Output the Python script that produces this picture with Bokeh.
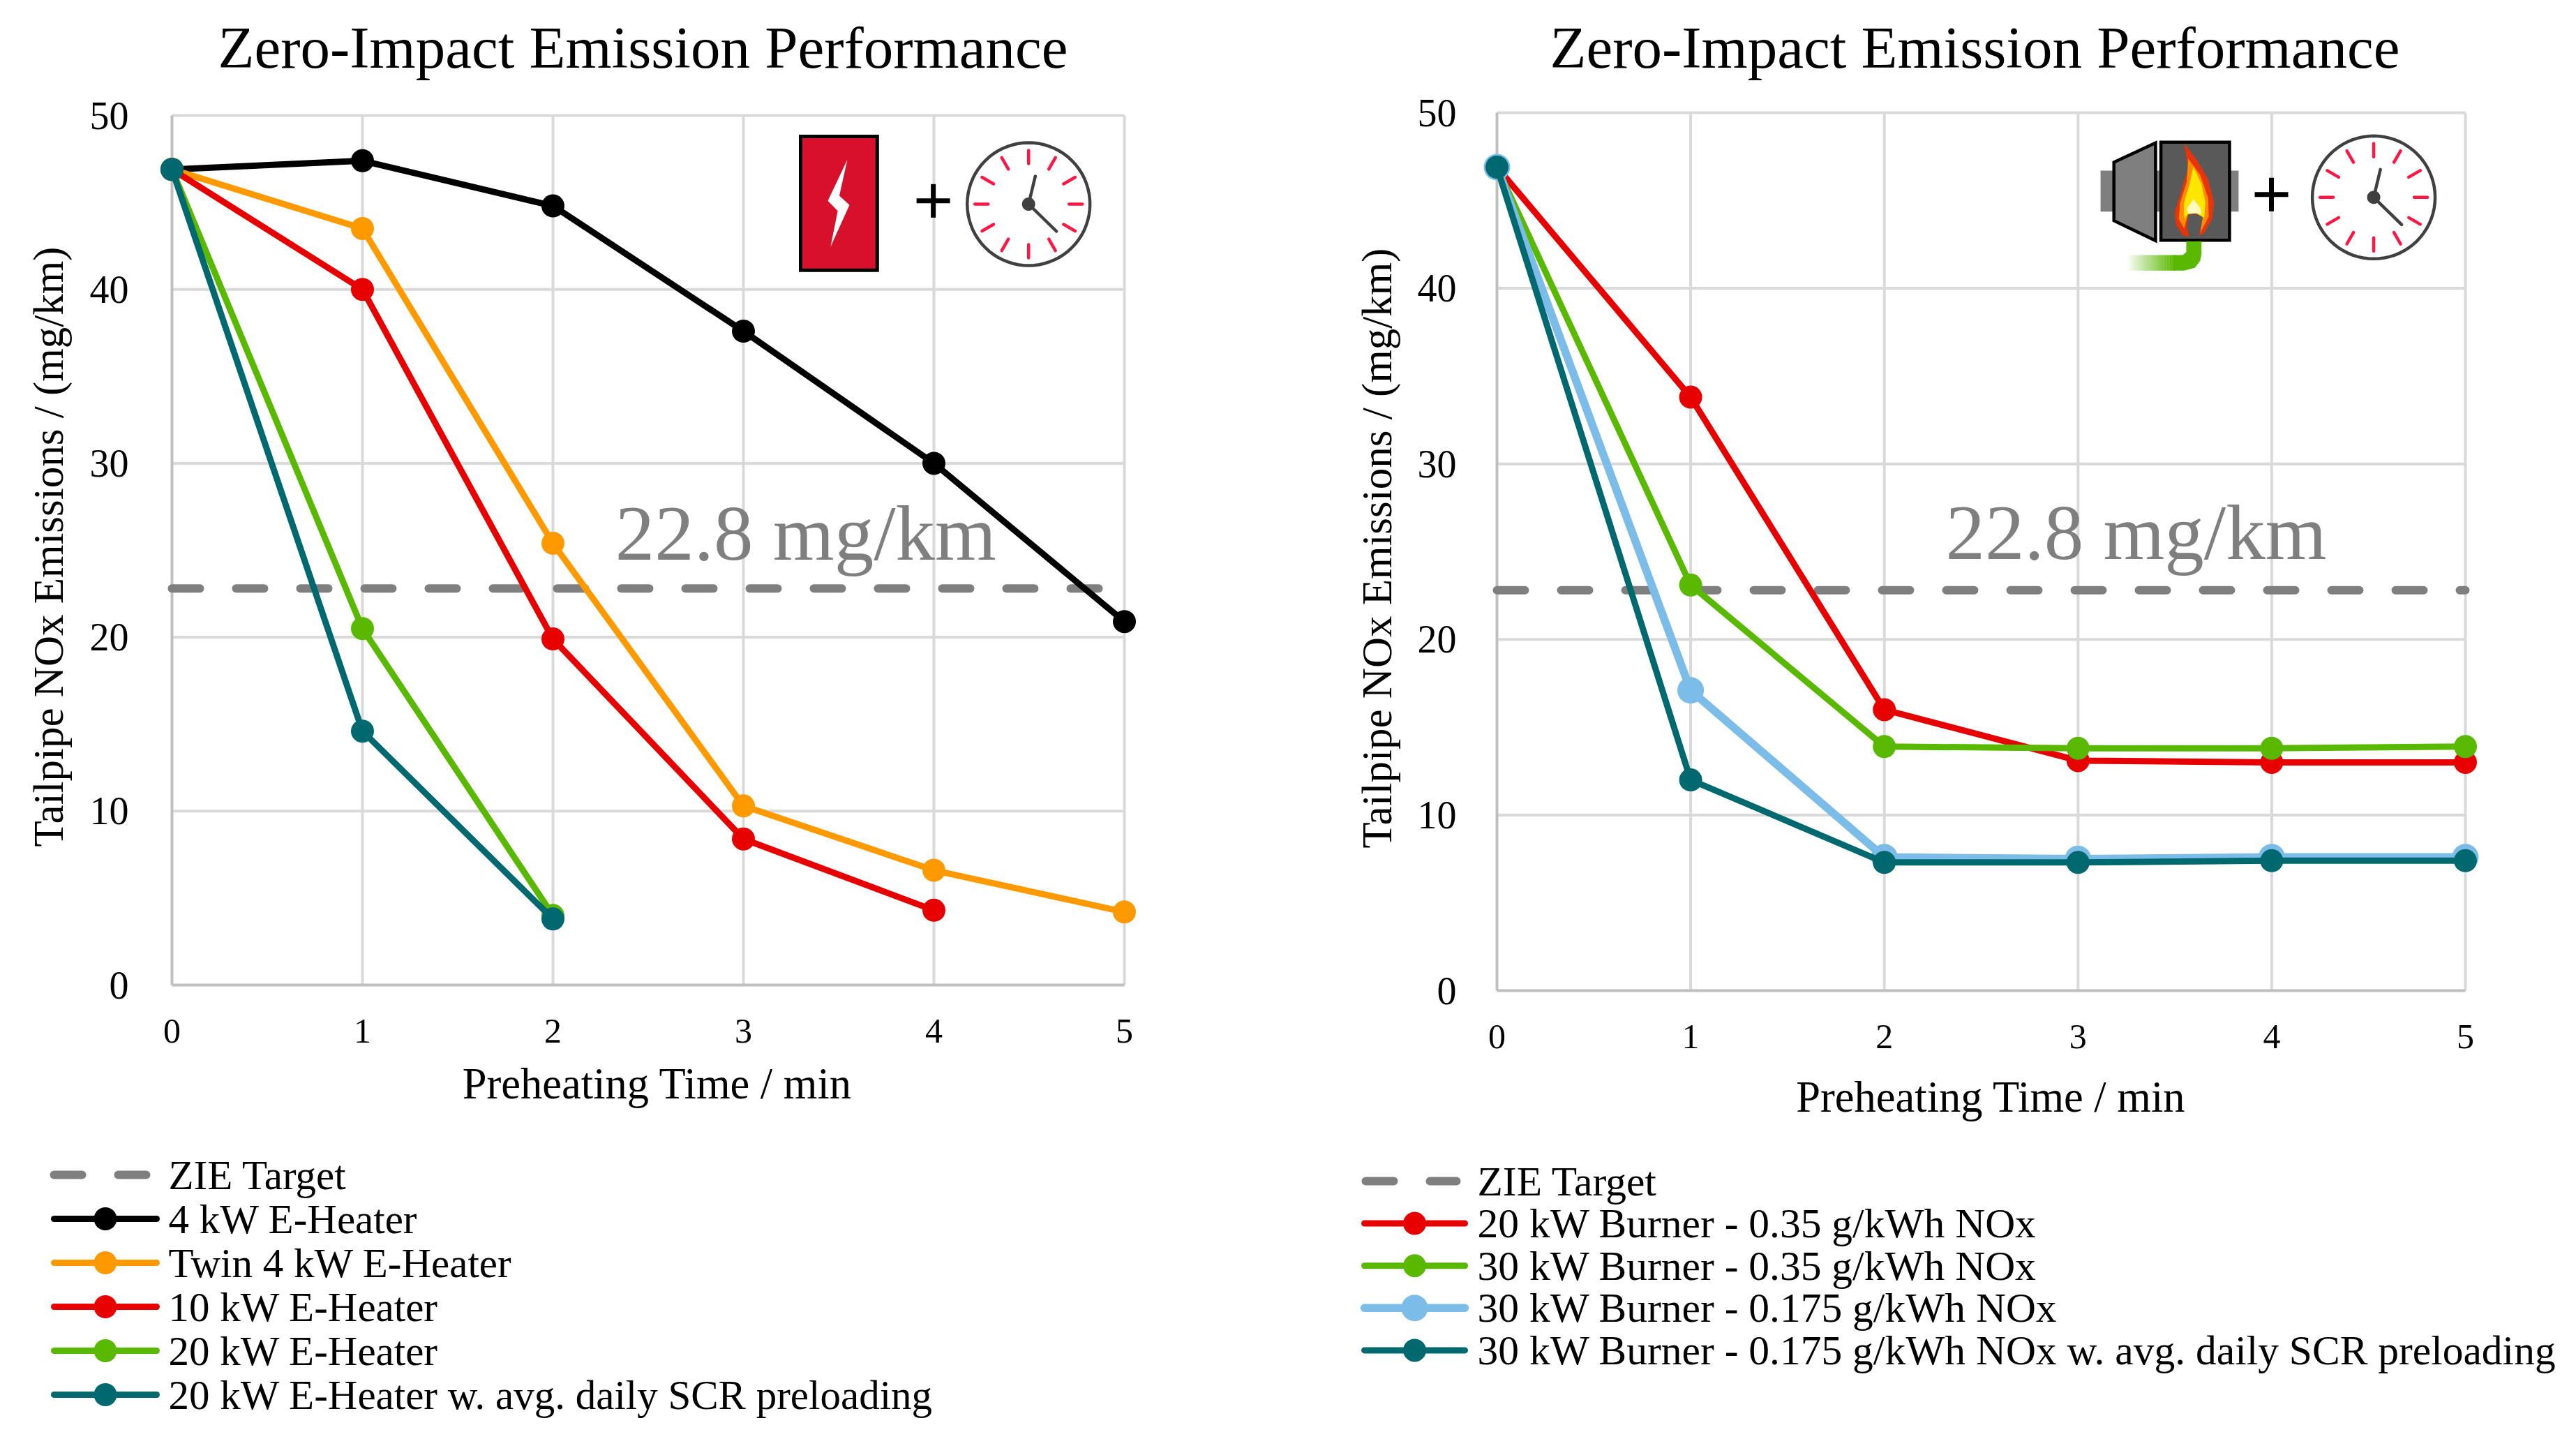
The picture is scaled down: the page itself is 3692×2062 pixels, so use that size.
import math
from bokeh.plotting import figure
from bokeh.layouts import row, column
from bokeh.models import Range1d, FixedTicker, Title
from bokeh.core.properties import value
from bokeh.embed import file_html
from bokeh.resources import INLINE

FONT = "Liberation Serif"
title_text = "Zero-Impact Emission Performance"
xlabel = "Preheating Time / min"
ylabel = "Tailpipe NOx Emissions / (mg/km)"
target_label = "22.8 mg/km"
target_name = "ZIE Target"
target = 22.8
times = [0, 1, 2, 3, 4, 5]
y_ticks = [0, 10, 20, 30, 40, 50]

left_names = ["4 kW E-Heater", "Twin 4 kW E-Heater", "10 kW E-Heater", "20 kW E-Heater",
              "20 kW E-Heater w. avg. daily SCR preloading"]
heater_4 = [46.9, 47.4, 44.8, 37.6, 30.0, 20.9]
heater_twin4 = [46.9, 43.5, 25.4, 10.3, 6.6, 4.2]
heater_10 = [46.9, 40.0, 19.9, 8.4, 4.3]
heater_20 = [46.9, 20.5, 4.0]
heater_20_scr = [46.9, 14.6, 3.8]

right_names = ["20 kW Burner - 0.35 g/kWh NOx", "30 kW Burner - 0.35 g/kWh NOx",
               "30 kW Burner - 0.175 g/kWh NOx",
               "30 kW Burner - 0.175  g/kWh NOx w. avg. daily SCR preloading"]
burner_20 = [46.9, 33.8, 16.0, 13.1, 13.0, 13.0]
burner_30 = [46.9, 23.1, 13.9, 13.8, 13.8, 13.9]
burner_30_low = [46.9, 17.1, 7.6, 7.5, 7.6, 7.6]
burner_30_scr = [46.9, 12.0, 7.3, 7.3, 7.4, 7.4]

BLACK, ORANGE, RED, GREEN, TEAL, SKY, GREY = "#000000", "#FF9900", "#E60000", "#59B800", "#00686F", "#7CBCE8", "#7F7F7F"
SPLIT_Y = 1640
PAGE_BOTTOM = 2055
M = 24        # room round the axes so that the markers on the edges stay whole
M_TOP = 34    # the frame's centre sets where the axis titles sit, so these two differ from M


class Panel:
    def __init__(self, fig_x, fig_w, x0, x1, y50, y0, m_right, title_x, tstand, xstand, ytick_stand, ystand):
        self.x0, self.x1, self.y50, self.y0 = x0, x1, y50, y0
        ux = (x1 - x0) / 5
        uy = (y0 - y50) / 50
        fl, fr, ft, fb = round(x0 - M), round(x1 + m_right), round(y50 - M_TOP), round(y0 + M)
        p = figure(output_backend="svg", toolbar_location=None,
                   x_range=Range1d(-M / ux, 5 + m_right / ux), y_range=Range1d(-M / uy, 50 + M_TOP / uy),
                   frame_width=fr - fl, frame_height=fb - ft,
                   min_border_left=fl - fig_x, min_border_right=fig_x + fig_w - fr,
                   min_border_top=ft, min_border_bottom=SPLIT_Y - fb,
                   background_fill_color="white", border_fill_color="white", outline_line_color=None)
        p.title = Title(text=title_text, align="left", offset=title_x - fl, text_font=FONT, text_font_size="85px",
                        text_font_style="normal", text_color="black", standoff=tstand)
        for ax, lab in ((p.xaxis[0], xlabel), (p.yaxis[0], ylabel)):
            ax.axis_label = lab
            ax.axis_label_text_font = FONT
            ax.axis_label_text_font_style = "normal"
            ax.axis_label_text_color = "black"
            ax.major_label_text_font = FONT
            ax.major_label_text_color = "black"
            ax.major_tick_line_color = None
            ax.minor_tick_line_color = None
            ax.axis_line_color = None
        p.xaxis[0].axis_label_text_font_size = "62.5px"
        p.yaxis[0].axis_label_text_font_size = "61px"
        p.xaxis[0].ticker = FixedTicker(ticks=times)
        p.yaxis[0].ticker = FixedTicker(ticks=y_ticks)
        p.xaxis[0].major_label_text_font_size = "50px"
        p.yaxis[0].major_label_text_font_size = "56px"
        p.xaxis[0].major_label_standoff = 19
        p.yaxis[0].major_label_standoff = ytick_stand
        p.xaxis[0].axis_label_standoff = xstand
        p.yaxis[0].axis_label_standoff = ystand
        p.grid.visible = False
        # grid stops at the axes' ends, while the frame runs a little further
        p.segment(times[1:], [0] * 5, times[1:], [50] * 5, line_color="#D9D9D9", line_width=4)
        p.segment([0] * 5, y_ticks[1:], [5] * 5, y_ticks[1:], line_color="#D9D9D9", line_width=4)
        p.line([0, 5], [0, 0], line_color="#BFBFBF", line_width=4)
        p.line([0, 0], [0, 50], line_color="#BFBFBF", line_width=4)
        self.p = p
        p.line([0, 5], [target, target], line_color=GREY, line_width=12, line_dash="40 52", line_cap="round")

    def series(self, values, color):
        xs = times[:len(values)]
        lw, size = key_style(color)
        self.p.line(xs, values, line_color=color, line_width=lw, line_join="round")
        self.p.scatter(xs, values, size=size, fill_color=color, line_color=None)

    def X(self, px):
        return (px - self.x0) / (self.x1 - self.x0) * 5

    def Y(self, py):
        return (self.y0 - py) / (self.y0 - self.y50) * 50

    def poly(self, pts, fill, line=None, lw=0, alpha=1.0):
        self.p.patch([self.X(a) for a, b in pts], [self.Y(b) for a, b in pts], fill_color=fill, fill_alpha=alpha,
                     line_color=line, line_width=lw, line_join="miter")

    def seg(self, a, b, c, d, color, lw, cap="round"):
        self.p.line([self.X(a), self.X(c)], [self.Y(b), self.Y(d)], line_color=color, line_width=lw, line_cap=cap)

    def note(self, x, y):
        self.p.text([x], [y], text=[target_label], text_font=value(FONT), text_font_size="113px",
                    text_color=GREY, text_baseline="middle", text_align="left")

    def plus(self, cx, cy):
        self.seg(cx - 24, cy, cx + 24, cy, "black", 7, "butt")
        self.seg(cx, cy - 24, cx, cy + 24, "black", 7, "butt")

    def clock(self, cx, cy):
        r = 88
        n = 72
        self.poly([(cx + r * math.cos(2 * math.pi * i / n), cy + r * math.sin(2 * math.pi * i / n)) for i in range(n)],
                  "white", "#404040", 4.5)
        for i in range(12):
            a = 2 * math.pi * i / 12
            self.seg(cx + 58 * math.cos(a), cy + 58 * math.sin(a), cx + 77 * math.cos(a), cy + 77 * math.sin(a), "#FF1744", 4.5)
        self.seg(cx, cy, cx + 9.6, cy - 40, "#404040", 4.5)
        self.seg(cx, cy, cx + 40, cy + 39, "#404040", 4.5)
        self.poly([(cx + 9.5 * math.cos(2 * math.pi * i / 24), cy + 9.5 * math.sin(2 * math.pi * i / 24)) for i in range(24)],
                  "#404040")


def key_style(color):
    """The light blue burner series is drawn a little heavier than the others."""
    return (11.5, 38) if color == SKY else (9, 33)


def legend_figure(width, names, colors, first_row, row_gap, key_x0, key_x1, dash_x0, dash_x1, text_x, font_px):
    """Legend keys and labels, in a figure whose scale is the page's pixels."""
    lp = figure(output_backend="svg", toolbar_location=None, width=width, height=PAGE_BOTTOM - SPLIT_Y,
                x_range=Range1d(0, width), y_range=Range1d(PAGE_BOTTOM - SPLIT_Y, 0),
                x_axis_location=None, y_axis_location=None, min_border=0, outline_line_color=None,
                background_fill_color="white", border_fill_color="white")
    lp.grid.visible = False
    y = first_row - SPLIT_Y
    lp.line([dash_x0, dash_x1], [y, y], line_color=GREY, line_width=12, line_dash="40 52", line_cap="round")
    labels = [target_name] + names
    ys = [y + i * row_gap for i in range(len(labels))]
    for yy, col in zip(ys[1:], colors):
        lw, size = key_style(col)
        lp.line([key_x0, key_x1], [yy, yy], line_color=col, line_width=lw, line_cap="round")
        lp.scatter([(key_x0 + key_x1) / 2], [yy], size=size, fill_color=col, line_color=None)
    lp.text([text_x] * len(labels), ys, text=labels, text_font=value(FONT), text_font_size=f"{font_px}px",
            text_color="black", text_baseline="middle", text_align="left")
    return lp


# ---------- left ----------
L = Panel(0, 1840, 245.5, 1611, 165, 1411, 50, 312, 33, 21, 32, 23)
L.series(heater_4, BLACK)
L.series(heater_twin4, ORANGE)
L.series(heater_10, RED)
L.series(heater_20, GREEN)
L.series(heater_20_scr, TEAL)
L.note(2.327, 26.0)
zx = lambda v: 1050 + v / 2.613
zy = lambda v: 150 + v / 3
L.poly([(zx(253), zy(135)), (zx(540), zy(135)), (zx(540), zy(710)), (zx(253), zy(710))], "#D7102C", "black", 5)
bolt = [(428, 235), (398, 390), (436, 430), (365, 610), (392, 455), (355, 412)]
L.poly([(zx(a), zy(b)) for a, b in bolt], "white")
L.plus(zx(750), zy(412))
L.clock(zx(1107), zy(426))

# ---------- right ----------
R = Panel(1840, 1850, 2145, 3533, 161, 1419, 52, 2221, 26, 32, 28, 22)
R.series(burner_20, RED)
R.series(burner_30, GREEN)
R.series(burner_30_low, SKY)
R.series(burner_30_scr, TEAL)
R.note(2.316, 26.1)
ax = lambda v: 2950 + v / 2.613
ay = lambda v: 150 + v / 3
rect = lambda a, b, c, d: [(ax(a), ay(b)), (ax(c), ay(b)), (ax(c), ay(d)), (ax(a), ay(d))]
R.poly(rect(157, 282, 674, 458), "#7F7F7F")
R.poly([(ax(a), ay(b)) for a, b in [(207, 246), (363, 163), (363, 583), (207, 497)]], "#7F7F7F", "black", 4.5)
R.poly(rect(383, 160, 640, 581), "#595959", "black", 4.5)
outer = [(470, 165), (520, 240), (560, 320), (582, 420), (575, 490), (545, 550), (525, 563), (545, 482), (515, 468), (485, 470), (480, 530), (490, 565), (465, 560), (440, 515), (435, 460), (460, 370), (485, 270)]
orange = [(485, 230), (530, 300), (560, 400), (562, 480), (530, 550), (540, 480), (515, 465), (485, 468), (470, 530), (450, 490), (455, 420), (480, 330)]
yellow = [(505, 265), (535, 340), (550, 420), (545, 485), (515, 465), (485, 468), (470, 490), (470, 420), (490, 340)]
pale = [(505, 405), (530, 440), (535, 470), (515, 465), (485, 468), (480, 445)]
R.poly([(ax(a), ay(b)) for a, b in outer], "#E8340A")
R.poly([(ax(a), ay(b)) for a, b in orange], "#FF8C00")
R.poly([(ax(a), ay(b)) for a, b in yellow], "#FFE600")
R.poly([(ax(a), ay(b)) for a, b in pale], "#FFF8C0")
pipe = [(478, 586), (535, 586), (535, 640), (530, 670), (510, 700), (470, 712), (430, 712), (430, 645), (465, 645), (478, 632)]
R.poly([(ax(a), ay(b)) for a, b in pipe], GREEN)
steps = 18
for i in range(steps):
    s0 = 255 + i * 10
    R.poly(rect(s0, 645, s0 + 10.5, 712), GREEN, None, 0, (i + 0.5) / steps)
R.plus(ax(797), ay(385))
R.clock(ax(1180), ay(397))

L_leg = legend_figure(1840, left_names, [BLACK, ORANGE, RED, GREEN, TEAL], 1683, 63, 77, 224, 77, 209, 241, 59)
R_leg = legend_figure(1850, right_names, [RED, GREEN, SKY, TEAL], 1692, 60.6, 115, 259, 117, 247, 277, 59.5)

# the extra row keeps the legend figure's frame from being lined up with the chart's
page = row(column(L.p, row(L_leg), spacing=0), column(R.p, row(R_leg), spacing=0), spacing=0)
open("out.html", "w").write(file_html(page, INLINE))
